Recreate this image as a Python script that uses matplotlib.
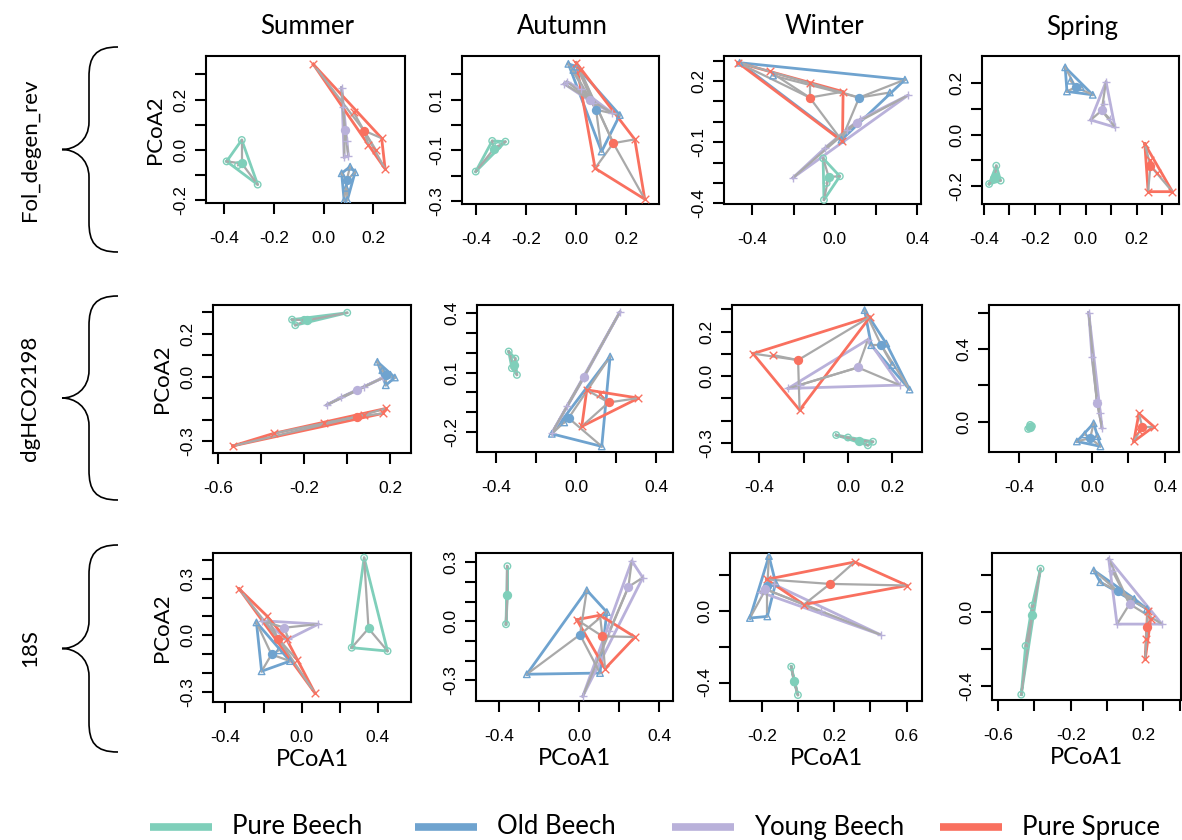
"""Betadisper-style PCoA panels: 3 markers x 4 seasons, hulls + spiders per stand type."""
import matplotlib
matplotlib.use("Agg")
import matplotlib.pyplot as plt
from matplotlib.path import Path
from matplotlib.patches import PathPatch

GROUPS = ["Pure Beech", "Old Beech", "Young Beech", "Pure Spruce"]
COLORS = ["#7fcfba", "#6fa3cf", "#b9b1da", "#f9705f"]
MARKERS = ["o", "^", "+", "x"]
SEASONS = ["Summer", "Autumn", "Winter", "Spring"]
MARKER_NAMES = ["Fol_degen_rev", "dgHCO2198", "18S"]

# each group: (x list, y list, centroid)
fol_summer = {
    "Pure Beech": ([-0.330, -0.391, -0.266, -0.345], [0.040, -0.045, -0.137, -0.060], (-0.330, -0.053)),
    "Old Beech": ([0.106, 0.072, 0.126, 0.082, 0.095, 0.090], [-0.066, -0.092, -0.088, -0.200, -0.198, -0.150], (0.092, -0.120)),
    "Young Beech": ([0.072, 0.082, 0.092, 0.076, 0.099], [0.248, -0.029, 0.037, 0.169, -0.022], (0.085, 0.080)),
    "Pure Spruce": ([-0.042, 0.233, 0.247, 0.120, 0.180, 0.210], [0.340, 0.047, -0.075, 0.150, 0.020, 0.000], (0.162, 0.077)),
}
fol_autumn = {
    "Pure Beech": ([-0.402, -0.336, -0.283, -0.313], [-0.184, -0.063, -0.066, -0.083], (-0.330, -0.095)),
    "Old Beech": ([-0.031, -0.011, 0.003, 0.175, 0.102, 0.060], [0.241, 0.217, 0.230, 0.039, -0.105, 0.100], (0.080, 0.060)),
    "Young Beech": ([-0.048, -0.037, 0.142, 0.069, 0.020], [0.162, 0.171, 0.049, 0.086, 0.140], (0.056, 0.099)),
    "Pure Spruce": ([0.000, 0.016, 0.235, 0.275, 0.076], [0.246, 0.217, -0.057, -0.293, -0.171], (0.149, -0.072)),
}
fol_winter = {
    "Pure Beech": ([-0.057, 0.024, -0.053, -0.040], [-0.179, -0.267, -0.383, -0.300], (-0.030, -0.270)),
    "Old Beech": ([-0.462, 0.340, 0.032, -0.300, 0.267], [0.290, 0.207, -0.088, 0.227, 0.144], (0.118, 0.119)),
    "Young Beech": ([-0.203, 0.356, 0.057, 0.122, -0.050], [-0.274, 0.131, -0.038, 0.012, -0.130], (0.105, -0.005)),
    "Pure Spruce": ([-0.470, -0.316, -0.122, 0.040, 0.037], [0.290, 0.247, 0.189, 0.148, -0.096], (-0.122, 0.119)),
}
fol_spring = {
    "Pure Beech": ([-0.351, -0.379, -0.334, -0.360], [-0.121, -0.192, -0.179, -0.170], (-0.355, -0.165)),
    "Old Beech": ([-0.081, -0.074, 0.027, -0.060, -0.020], [0.262, 0.168, 0.155, 0.210, 0.185], (-0.040, 0.185)),
    "Young Beech": ([0.079, 0.019, 0.114, 0.070, 0.095], [0.206, 0.057, 0.029, 0.120, 0.060], (0.062, 0.094)),
    "Pure Spruce": ([0.231, 0.244, 0.339, 0.250, 0.280], [-0.036, -0.222, -0.222, -0.100, -0.150], (0.253, -0.121)),
}
dg_summer = {
    "Pure Beech": ([-0.256, 0.000, -0.241, -0.200], [0.266, 0.298, 0.240, 0.265], (-0.186, 0.263)),
    "Old Beech": ([0.140, 0.221, 0.179, 0.163, 0.200], [0.070, -0.003, -0.039, 0.031, 0.010], (0.179, 0.008)),
    "Young Beech": ([-0.096, -0.031, 0.078, 0.168], [-0.131, -0.096, -0.046, -0.003], (0.047, -0.062)),
    "Pure Spruce": ([-0.531, -0.342, -0.109, 0.078, 0.179, 0.165], [-0.321, -0.263, -0.216, -0.178, -0.147, -0.170], (0.047, -0.185)),
}
dg_autumn = {
    "Pure Beech": ([-0.338, -0.297, -0.322, -0.305], [0.205, 0.088, 0.122, 0.170], (-0.313, 0.138)),
    "Old Beech": ([-0.122, 0.170, 0.128, -0.060], [-0.207, 0.180, -0.270, -0.150], (-0.038, -0.128)),
    "Young Beech": ([-0.122, 0.220, 0.037, -0.047], [-0.203, 0.405, 0.072, -0.070], (0.040, 0.080)),
    "Pure Spruce": ([0.053, 0.312, 0.028, 0.120], [0.013, -0.028, -0.170, -0.010], (0.162, -0.050)),
}
dg_winter = {
    "Pure Beech": ([-0.053, 0.113, 0.090, 0.000], [-0.264, -0.294, -0.310, -0.275], (0.052, -0.290)),
    "Old Beech": ([0.075, 0.278, 0.105, 0.173, 0.200], [0.296, -0.060, 0.139, 0.146, 0.050], (0.150, 0.139)),
    "Young Beech": ([-0.270, 0.233, 0.090, -0.218], [-0.055, -0.040, 0.164, -0.040], (0.045, 0.039)),
    "Pure Spruce": ([-0.428, 0.100, -0.218, -0.340], [0.101, 0.266, -0.152, 0.095], (-0.225, 0.072)),
}
dg_spring = {
    "Pure Beech": ([-0.339, -0.350, -0.340, -0.330], [-0.018, -0.040, -0.030, -0.025], (-0.340, -0.028)),
    "Old Beech": ([-0.083, 0.046, 0.009, -0.040, 0.030], [-0.109, -0.136, -0.009, -0.070, -0.080], (-0.010, -0.090)),
    "Young Beech": ([-0.018, 0.000, 0.028, 0.046, 0.055], [0.600, 0.355, 0.118, 0.045, -0.036], (0.028, 0.100)),
    "Pure Spruce": ([0.257, 0.229, 0.339, 0.260], [0.045, -0.109, -0.027, -0.050], (0.275, -0.027)),
}
s18_summer = {
    "Pure Beech": ([0.328, 0.263, 0.451], [0.411, -0.066, -0.084], (0.351, 0.036)),
    "Old Beech": ([-0.237, -0.210, -0.061, -0.120], [0.068, -0.191, -0.137, -0.080], (-0.158, -0.102)),
    "Young Beech": ([-0.210, 0.088, -0.070], [0.077, 0.059, -0.021], (-0.090, 0.040)),
    "Pure Spruce": ([-0.328, 0.070, -0.184, -0.079, -0.026], [0.246, -0.307, 0.104, -0.021, -0.129], (-0.123, -0.018)),
}
s18_autumn = {
    "Pure Beech": ([-0.360, -0.360, -0.367], [0.280, 0.132, -0.015], (-0.360, 0.132)),
    "Old Beech": ([0.037, -0.263, 0.103, 0.137], [0.158, -0.269, -0.263, 0.047], (0.003, -0.068)),
    "Young Beech": ([0.262, 0.317, 0.017, 0.150], [0.307, 0.222, -0.381, -0.050], (0.245, 0.175)),
    "Pure Spruce": ([-0.013, 0.103, 0.278, 0.128], [0.008, 0.031, -0.080, -0.241], (0.115, -0.076)),
}
s18_winter = {
    "Pure Beech": ([-0.037, 0.000, -0.020], [-0.312, -0.470, -0.400], (-0.022, -0.390)),
    "Old Beech": ([-0.160, -0.265, -0.169, -0.123], [0.304, -0.041, -0.032, 0.155], (-0.169, 0.136)),
    "Young Beech": ([-0.206, -0.132, 0.456, 0.125], [0.103, 0.146, -0.134, -0.004], (-0.180, 0.120)),
    "Pure Spruce": ([-0.173, 0.313, 0.603, 0.033], [0.174, 0.271, 0.140, 0.034], (0.177, 0.149)),
}
s18_spring = {
    "Pure Beech": ([-0.366, -0.412, -0.448, -0.472], [0.233, 0.033, -0.185, -0.449], (-0.412, -0.020)),
    "Old Beech": ([-0.073, -0.037, 0.220, 0.150], [0.224, 0.160, 0.015, 0.070], (0.060, 0.110)),
    "Young Beech": ([0.009, 0.055, 0.302, 0.030], [0.287, -0.067, -0.067, 0.220], (0.124, 0.042)),
    "Pure Spruce": ([0.223, 0.210, 0.240, 0.215], [0.005, -0.258, -0.040, -0.150], (0.220, -0.080)),
}

PANELS = [
    [fol_summer, fol_autumn, fol_winter, fol_spring],
    [dg_summer, dg_autumn, dg_winter, dg_spring],
    [s18_summer, s18_autumn, s18_winter, s18_spring],
]

# axis limits and ticks per panel: (xlim, ylim, xticks, xlabels shown, yticks, ylabels shown)
AXES_SPEC = [
    [((-0.474, 0.327), (-0.210, 0.373), [-0.4, -0.2, 0.0, 0.2], [-0.4, -0.2, 0.0, 0.2],
      [-0.2, -0.1, 0.0, 0.1, 0.2, 0.3], [-0.2, 0.0, 0.2]),
     ((-0.457, 0.332), (-0.312, 0.272), [-0.4, -0.2, 0.0, 0.2], [-0.4, -0.2, 0.0, 0.2],
      [-0.3, -0.2, -0.1, 0.0, 0.1, 0.2], [-0.3, -0.1, 0.1]),
     ((-0.538, 0.418), (-0.403, 0.323), [-0.4, -0.2, 0.0, 0.2, 0.4], [-0.4, 0.0, 0.4],
      [-0.4, -0.3, -0.2, -0.1, 0.0, 0.1, 0.2, 0.3], [-0.4, -0.1, 0.2]),
     ((-0.407, 0.365), (-0.270, 0.306), [-0.4, -0.3, -0.2, -0.1, 0.0, 0.1, 0.2, 0.3], [-0.4, -0.2, 0.0, 0.2],
      [-0.2, -0.1, 0.0, 0.1, 0.2], [-0.2, 0.0, 0.2])],
    [((-0.623, 0.296), (-0.354, 0.334), [-0.6, -0.4, -0.2, 0.0, 0.2], [-0.6, -0.2, 0.2],
      [-0.3, -0.2, -0.1, 0.0, 0.1, 0.2, 0.3], [-0.3, 0.0, 0.2]),
     ((-0.497, 0.485), (-0.298, 0.438), [-0.4, -0.2, 0.0, 0.2, 0.4], [-0.4, 0.0, 0.4],
      [-0.2, -0.1, 0.0, 0.1, 0.2, 0.3, 0.4], [-0.2, 0.1, 0.4]),
     ((-0.523, 0.334), (-0.340, 0.319), [-0.4, -0.2, 0.0, 0.2], [-0.4, 0.0, 0.2],
      [-0.3, -0.2, -0.1, 0.0, 0.1, 0.2, 0.3], [-0.3, 0.0, 0.2]),
     ((-0.565, 0.477), (-0.167, 0.642), [-0.4, -0.2, 0.0, 0.2, 0.4], [-0.4, 0.0, 0.4],
      [0.0, 0.2, 0.4, 0.6], [0.0, 0.4])],
    [((-0.465, 0.574), (-0.354, 0.436), [-0.4, -0.2, 0.0, 0.2, 0.4], [-0.4, 0.0, 0.4],
      [-0.3, -0.2, -0.1, 0.0, 0.1, 0.2, 0.3, 0.4], [-0.3, 0.0, 0.3]),
     ((-0.517, 0.468), (-0.405, 0.347), [-0.4, -0.2, 0.0, 0.2, 0.4], [-0.4, 0.0, 0.4],
      [-0.3, -0.2, -0.1, 0.0, 0.1, 0.2, 0.3], [-0.3, 0.0, 0.3]),
     ((-0.375, 0.685), (-0.503, 0.321), [-0.2, 0.0, 0.2, 0.4, 0.6], [-0.2, 0.2, 0.6],
      [-0.4, -0.2, 0.0, 0.2], [-0.4, 0.0]),
     ((-0.633, 0.407), (-0.478, 0.318), [-0.6, -0.4, -0.2, 0.0, 0.2, 0.4], [-0.6, -0.2, 0.2],
      [-0.4, -0.2, 0.0, 0.2], [-0.4, 0.0])],
]

# plot boxes in pixels: left, top, right, bottom
BOXES = [
    [(206, 56, 405, 203), (462, 56, 659, 204), (724, 56, 921, 204), (982, 56, 1179, 204)],
    [(213, 305, 411, 453), (477, 305, 673, 452), (732, 305, 922, 452), (989, 305, 1179, 452)],
    [(213, 553, 411, 702), (476, 553, 673, 701), (730, 553, 922, 701), (992, 553, 1181, 700)],
]

W, H = 1182, 840
TICK_FONT = "Liberation Sans"
TEXT_FONT = "Lato"


def convex_hull(pts):
    pts = sorted(set(pts))
    if len(pts) < 3:
        return pts

    def cross(o, a, b):
        return (a[0] - o[0]) * (b[1] - o[1]) - (a[1] - o[1]) * (b[0] - o[0])

    lower, upper = [], []
    for p in pts:
        while len(lower) >= 2 and cross(lower[-2], lower[-1], p) <= 0:
            lower.pop()
        lower.append(p)
    for p in reversed(pts):
        while len(upper) >= 2 and cross(upper[-2], upper[-1], p) <= 0:
            upper.pop()
        upper.append(p)
    return lower[:-1] + upper[:-1]


def fmt(v):
    return f"{v:.1f}".replace("-0.0", "0.0")


def draw_panel(ax, data, spec):
    xlim, ylim, xt, xl, yt, yl = spec
    for name, color, marker in zip(GROUPS, COLORS, MARKERS):
        xs, ys, (cx, cy) = data[name]
        hull = convex_hull(list(zip(xs, ys)))
        hull.append(hull[0])
        ax.plot([p[0] for p in hull], [p[1] for p in hull], color=color, lw=2, zorder=2)
        for x, y in zip(xs, ys):
            ax.plot([cx, x], [cy, y], color="#a9a9a9", lw=1.6, zorder=3)
        if marker in ("+", "x"):
            ax.scatter(xs, ys, marker=marker, color=color, s=30, lw=1, zorder=4)
        else:
            ax.scatter(xs, ys, marker=marker, facecolors="none", edgecolors=color, s=22, lw=1, zorder=4)
        ax.scatter([cx], [cy], marker="o", color=color, s=45, lw=0, zorder=5)

    ax.set_xlim(*xlim)
    ax.set_ylim(*ylim)
    ax.set_xticks(xt)
    ax.set_xticklabels([fmt(v) if any(abs(v - s) < 1e-9 for s in xl) else "" for v in xt])
    ax.set_yticks(yt)
    ax.set_yticklabels([fmt(v) if any(abs(v - s) < 1e-9 for s in yl) else "" for v in yt],
                       rotation=90, va="center")
    ax.tick_params(length=8, width=1.5, labelsize=12.5)
    ax.tick_params(axis="x", pad=12)
    ax.tick_params(axis="y", pad=5)
    for lab in ax.get_xticklabels() + ax.get_yticklabels():
        lab.set_family(TICK_FONT)
    for sp in ax.spines.values():
        sp.set_linewidth(1.5)


def brace(ax, y0, y1, x_end=118, x_mid=89, x_tip=62):
    ym = (y0 + y1) / 2
    verts = [
        (x_end, y0),
        (x_mid + 6, y0), (x_mid, y0 + 10), (x_mid, y0 + 30),
        (x_mid, ym - 28),
        (x_mid, ym - 8), (x_tip + 12, ym), (x_tip, ym),
        (x_tip + 12, ym), (x_mid, ym + 8), (x_mid, ym + 28),
        (x_mid, y1 - 30),
        (x_mid, y1 - 10), (x_mid + 6, y1), (x_end, y1),
    ]
    codes = ([Path.MOVETO] + [Path.CURVE4] * 3 + [Path.LINETO] + [Path.CURVE4] * 6
             + [Path.LINETO] + [Path.CURVE4] * 3)
    ax.add_patch(PathPatch(Path(verts, codes), fill=False, lw=1.2, color="black"))


fig = plt.figure(figsize=(W / 100, H / 100), dpi=100)

for r in range(3):
    for c in range(4):
        left, top, right, bottom = BOXES[r][c]
        ax = fig.add_axes([left / W, 1 - bottom / H, (right - left) / W, (bottom - top) / H])
        draw_panel(ax, PANELS[r][c], AXES_SPEC[r][c])
        if c == 0:
            ax.set_ylabel("PCoA2", fontsize=16, family=TEXT_FONT, labelpad=6)
        if r == 2:
            ax.set_xlabel("PCoA1", fontsize=17, family=TEXT_FONT, labelpad=3)

# overlay in pixel coordinates for titles, braces and legend
over = fig.add_axes([0, 0, 1, 1], zorder=-1)
over.set_xlim(0, W)
over.set_ylim(H, 0)
over.axis("off")

for c, season in enumerate(SEASONS):
    left, _, right, _ = BOXES[0][c]
    over.text((left + right) / 2 + 2, 27, season, ha="center", va="center", fontsize=18.5, family=TEXT_FONT)

for r, name in enumerate(MARKER_NAMES):
    y0 = [47, 296, 545][r]
    y1 = [252, 500, 752][r]
    brace(over, y0, y1)
    over.text(30, (y0 + y1) / 2, name, rotation=90, ha="center", va="center", fontsize=16, family=TEXT_FONT)

legend_x = [150, 415, 672, 940]
for x0, name, color in zip(legend_x, GROUPS, COLORS):
    over.plot([x0, x0 + 62], [827, 827], color=color, lw=5.5, solid_capstyle="butt")
    over.text(x0 + 82, 827, name, ha="left", va="center", fontsize=18.5, family=TEXT_FONT)

fig.savefig("out.png", dpi=100)
